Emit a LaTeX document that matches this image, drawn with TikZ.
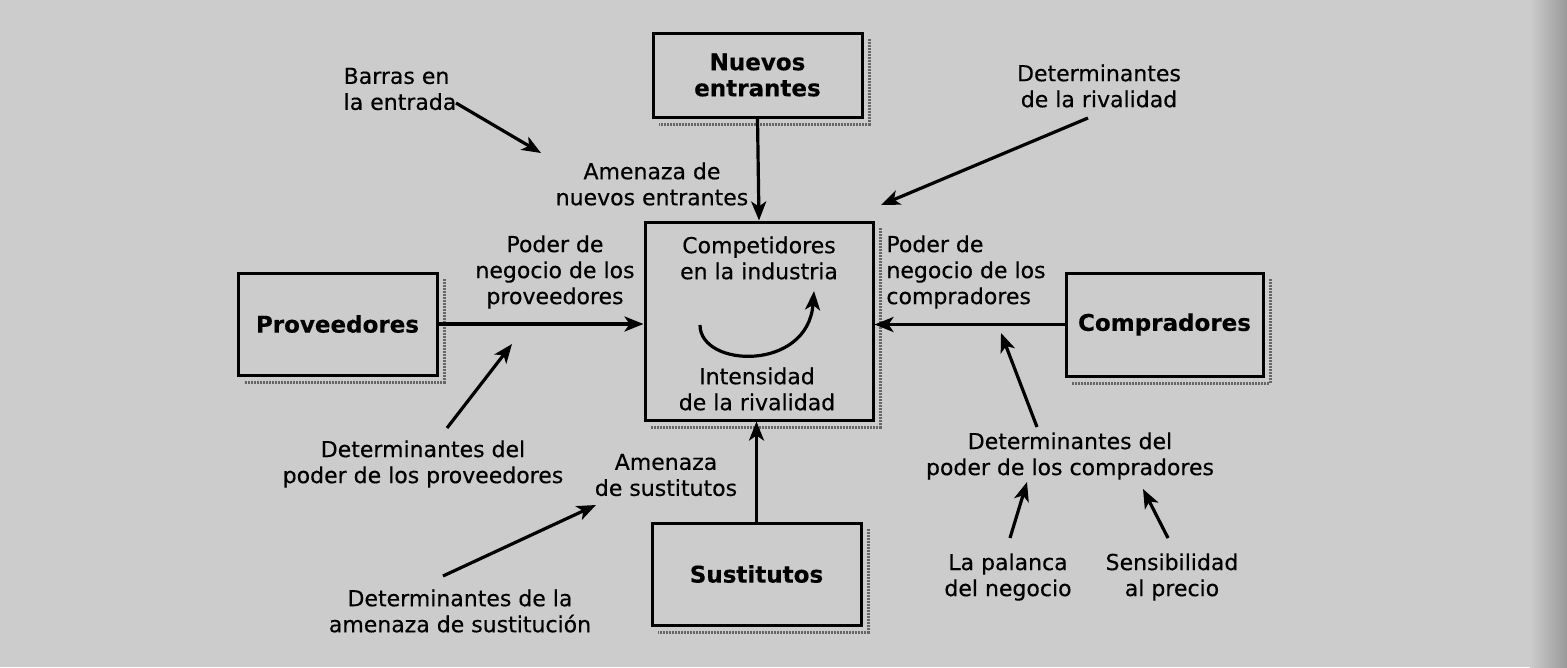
\documentclass[tikz,border=0pt]{standalone}
\usepackage{fontspec}
\setmainfont{DejaVu Sans}[FakeBold=0.4]
\newfontfamily\boxfont{DejaVu Sans}[FakeBold=0.6]
\usetikzlibrary{arrows.meta}
\definecolor{bg}{gray}{0.80}
\tikzset{
  forcebox/.style={draw=black, line width=3pt, fill=bg, font=\fontsize{23}{26}\selectfont\bfseries, align=center, inner sep=0pt},
  lbl/.style={font=\fontsize{22}{26}\selectfont, align=center, inner sep=0pt},
  arr/.style={line width=3.2pt, -{Stealth[length=19pt,width=15pt,inset=5pt]}},
  shadowline/.style={line width=3pt, black!60, dash pattern=on 2pt off 1pt}
}
\begin{document}
\begin{tikzpicture}[x=1pt,y=-1pt]
\useasboundingbox (0,0) rectangle (1567,667);
\fill[bg] (0,0) rectangle (1567,667);
\shade[left color=bg, right color=black!40] (1530,0) rectangle (1567,667);

% shadows
\foreach \xa/\ya/\xb/\yb in {653/33/862/117, 645/222/873/420, 238/273/437/375, 1066/273/1263/376, 652/523/861/625}{
  \draw[shadowline] (\xb+7,\ya+6) -- (\xb+7,\yb+7) -- (\xa+6,\yb+7);
}

% boxes
\node[forcebox, minimum width=209pt, minimum height=84pt] (nuevos) at (757.5,75) {Nuevos\\entrantes};
\node[forcebox, minimum width=228pt, minimum height=198pt] (comp) at (759,321) {};
\node[forcebox, minimum width=199pt, minimum height=102pt] (prov) at (337.5,324) {Proveedores};
\node[forcebox, minimum width=197pt, minimum height=103pt] (compr) at (1164.5,324.5) {Compradores};
\node[forcebox, minimum width=209pt, minimum height=102pt] (sust) at (756.5,574) {Sustitutos};

% texts inside central box
\node[lbl] (comptxt) at (759,258) {Competidores\\en la industria};
\node[lbl] (inttxt) at (757,389) {Intensidad\\de la rivalidad};
\coordinate (cs) at (700,325);
\coordinate (ce) at (814,291);
\draw[arr] (cs) .. controls (700,368) and (808,372) .. (ce);

% main arrows
\draw[arr] (nuevos.south) -- (comp.north);
\draw[arr] (prov.east) -- (comp.west |- prov.east);
\draw[arr] (compr.west) -- (comp.east |- compr.west);
\draw[arr] (sust.north) -- (comp.south -| sust.north);

% labels
\node[lbl, align=left] (barras) at (400,89) {Barras en\\la entrada};
\node[lbl] (amnuevos) at (652,184) {Amenaza de\\nuevos entrantes};
\node[lbl] (detriv) at (1099,86) {Determinantes\\de la rivalidad};
\node[lbl] (podprov) at (555,272) {Poder de\\negocio de los\\proveedores};
\node[lbl, align=left] (podcompr) at (966,272) {Poder de\\negocio de los\\compradores};
\node[lbl] (detprov) at (423,464) {Determinantes del\\poder de los proveedores};
\node[lbl] (amsust) at (666,475) {Amenaza\\de sustitutos};
\node[lbl] (detcompr) at (1070,456) {Determinantes del\\poder de los compradores};
\node[lbl] (palanca) at (1008,577) {La palanca\\del negocio};
\node[lbl] (sensib) at (1172,577) {Sensibilidad\\al precio};
\node[lbl] (detsust) at (460,611) {Determinantes de la\\amenaza de sustitución};

% secondary arrows
\coordinate (t1) at (456,103); \coordinate (h1) at (541,153);
\coordinate (t2) at (1088,118); \coordinate (h2) at (881,205);
\coordinate (t3) at (447,428); \coordinate (h3) at (512,344);
\coordinate (t4) at (443,576); \coordinate (h4) at (596,505);
\coordinate (t5) at (1037,427); \coordinate (h5) at (1001,333);
\coordinate (t6) at (1010,538); \coordinate (h6) at (1027,482);
\coordinate (t7) at (1168,538); \coordinate (h7) at (1143,489);
\draw[arr] (t1) -- (h1);
\draw[arr] (t2) -- (h2);
\draw[arr] (t3) -- (h3);
\draw[arr] (t4) -- (h4);
\draw[arr] (t5) -- (h5);
\draw[arr] (t6) -- (h6);
\draw[arr] (t7) -- (h7);
\end{tikzpicture}
\end{document}
